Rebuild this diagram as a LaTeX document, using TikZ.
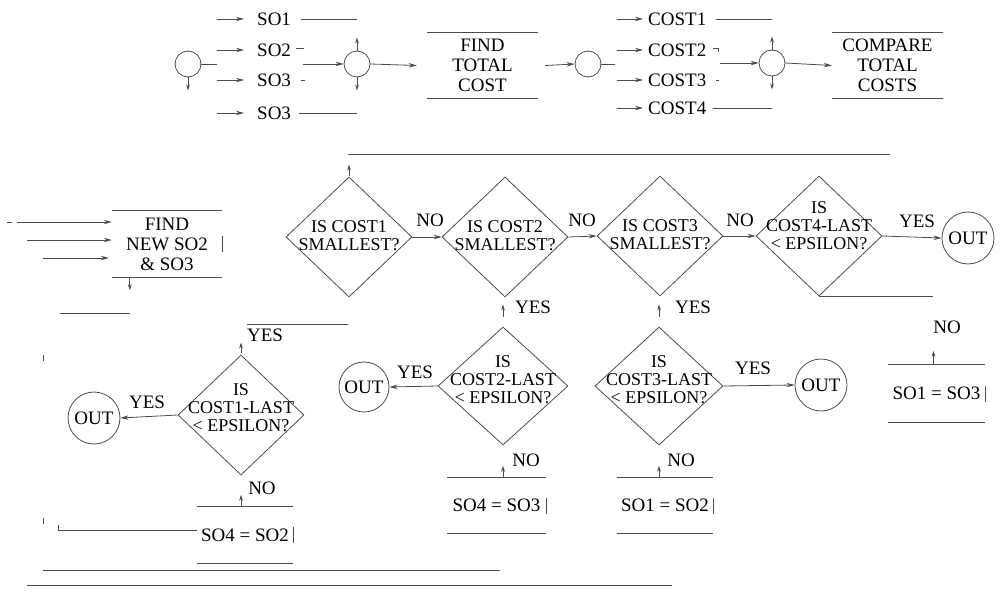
\documentclass[tikz,border=0pt]{standalone}
\usepackage{fontspec}
\setmainfont{Liberation Serif}
\usetikzlibrary{arrows.meta,shapes.geometric,calc}
\begin{document}
\begin{tikzpicture}[x=1pt,y=-1pt,
  every node/.style={font=\fontsize{19}{20}\selectfont, inner sep=0pt, text=black},
  ln/.style={draw=black!70, line width=0.8pt},
  arr/.style={ln, -{Stealth[length=8pt,width=4.4pt]}},
  stub/.style={ln, -{Stealth[length=6pt,width=3.8pt]}},
  knot/.style={circle, draw=black!70, line width=0.8pt, minimum size=26pt},
  outc/.style={circle, draw=black!70, line width=0.8pt, minimum size=52pt},
  dia/.style={diamond, draw=black!70, line width=0.8pt, minimum width=126pt, minimum height=120pt},
  dtxt/.style={align=center, font=\fontsize{18}{18}\selectfont},
  barbox/.style={align=center, append after command={
      (\tikzlastnode.north west) edge[ln] (\tikzlastnode.north east)
      (\tikzlastnode.south west) edge[ln] (\tikzlastnode.south east)}},
]
\useasboundingbox (0,0) rectangle (1001,599);

% ---------- top row ----------
\node[knot] (c1) at (188,64) {};
\draw[stub] (c1.south) -- ++(0,13);
\coordinate (c1r) at (217,64);
\draw[ln] (c1.east) -- (c1r);

\node[anchor=west] (so1) at (257,19) {SO1};
\node[anchor=west] (so2) at (257,50) {SO2};
\node[anchor=west] (so3) at (257,80) {SO3};
\node[anchor=west] (so3b) at (257,113) {SO3};
\foreach \n in {so1,so2,so3,so3b}{
  \draw[arr] ($(\n.west)+(-40,0)$) -- ($(\n.west)+(-13,0)$);
}
\coordinate (so1e) at (357,19);
\coordinate (so3be) at (357,113);
\draw[ln] ($(so1.east)+(10,0)$) -- (so1e);
\draw[ln] ($(so3b.east)+(8,0)$) -- (so3be);
\draw[ln] ($(so2.east)+(5,-2)$) -- ++(8,0);
\draw[ln] ($(so3.east)+(10,0)$) -- ++(4,0);

\node[knot] (c2) at (357,64) {};
\coordinate (c2in) at (303,64);
\draw[arr] (c2in) -- (c2.west);
\draw[stub] (c2.north) -- ++(0,-13);
\draw[stub] (c2.south) -- ++(0,13);

\node[barbox, minimum width=111pt, minimum height=65pt] (ftc) at (482.5,65.5) {FIND\\TOTAL\\COST};
\draw[arr] (c2.east) -- ($(ftc.west)+(-10,0)$);

\node[knot] (c3) at (588,64) {};
\draw[arr] ($(ftc.east)+(7,0)$) -- (c3.west);
\coordinate (c3r) at (615,64);
\draw[ln] (c3.east) -- (c3r);

\node[anchor=west] (k1) at (648,19) {COST1};
\node[anchor=west] (k2) at (648,50) {COST2};
\node[anchor=west] (k3) at (648,80) {COST3};
\node[anchor=west] (k4) at (648,108) {COST4};
\foreach \n in {k1,k2,k3,k4}{
  \draw[arr] ($(\n.west)+(-31,0)$) -- ($(\n.west)+(-5,0)$);
}
\coordinate (k1e) at (772,19);
\coordinate (k4e) at (772,108);
\draw[ln] ($(k1.east)+(10,0)$) -- (k1e);
\draw[ln] ($(k4.east)+(7,0)$) -- (k4e);
\draw[ln] ($(k2.east)+(7,-2)$) -- ++(5,0) -- ++(0,4);
\draw[ln] ($(k3.east)+(10,0)$) -- ++(3,0);

\node[knot] (c4) at (772,63) {};
\coordinate (c4in) at (720,63);
\draw[arr] (c4in) -- (c4.west);
\draw[stub] (c4.north) -- ++(0,-13);
\draw[stub] (c4.south) -- ++(0,13);

\node[barbox, minimum width=111pt, minimum height=65pt] (ctc) at (887.5,65.5) {COMPARE\\TOTAL\\COSTS};
\draw[arr] (c4.east) -- (ctc.west);

% ---------- decision row ----------
\coordinate (topL) at (348,154);
\coordinate (topR) at (890,154);
\draw[ln] (topL) -- (topR);

\node[dia] (d1) at (349,237) {};
\node[dtxt] (t1) at (349,236) {IS COST1\\SMALLEST?};
\node[dia] (d2) at (505,237) {};
\node[dtxt] (t2) at (505,236) {IS COST2\\SMALLEST?};
\node[dia] (d3) at (660,236) {};
\node[dtxt] (t3) at (660,235) {IS COST3\\SMALLEST?};
\node[dia] (d4) at (819,236) {};
\node[dtxt] (t4) at (819,226) {IS\\COST4-LAST\\< EPSILON?};

\draw[stub] ($(d1.north)+(0,-1)$) -- ++(0,-11);
\draw[arr] (d1.east) -- (d2.west);
\draw[arr] (d2.east) -- (d3.west);
\draw[arr] (d3.east) -- (d4.west);
\node (no1) at (430,220) {NO};
\node (no2) at (582,220) {NO};
\node (no3) at (740,220) {NO};

\node[outc] (o1) at (968,238) {OUT};
\draw[arr] (d4.east) -- (o1.west);
\node (y4) at (917,221) {YES};
\coordinate (d4r) at (933,294);
\draw[ln] (d4.south) -- (d4.south -| d4r);

% FIND NEW SO2 & SO3
\node[barbox, minimum width=110pt, minimum height=66pt] (fnb) at (167,244) {FIND\\NEW SO2\\\& SO3};
\draw[ln] ([yshift=8pt]fnb.east) -- ([yshift=-8pt]fnb.east);
\coordinate (f1) at (17,222);
\coordinate (f2) at (27,240);
\coordinate (f3) at (43,258);
\draw[arr] (f1) -- (f1 -| fnb.west);
\draw[arr] (f2) -- (f2 -| fnb.west);
\draw[arr] (f3) -- ($(f3 -| fnb.west)+(-3,0)$);
\coordinate (f0a) at (7,222);
\coordinate (f0b) at (12,222);
\draw[ln] (f0a) -- (f0b);
\draw[stub] ($(fnb.south west)+(18,1)$) -- ++(0,12);
\coordinate (m1a) at (60,313);
\coordinate (m1b) at (130,313);
\draw[ln] (m1a) -- (m1b);

% ---------- second decision row ----------
\node (y2) at (533,307) {YES};
\node (y3) at (693,307) {YES};

\node[dia, minimum width=130pt, minimum height=118pt] (d5) at (503,386) {};
\node[dtxt] (t5) at (503,380) {IS\\COST2-LAST\\< EPSILON?};
\node[dia, minimum width=128pt, minimum height=118pt] (d6) at (659,386) {};
\node[dtxt] (t6) at (659,380) {IS\\COST3-LAST\\< EPSILON?};
\node[dia] (d7) at (241,415) {};
\node[dtxt] (t7) at (241,408) {IS\\COST1-LAST\\< EPSILON?};

\draw[stub] ($(d5.north)+(0,-10)$) -- ++(0,-12);
\draw[stub] ($(d6.north)+(0,-10)$) -- ++(0,-12);
\draw[stub] ($(d7.north)+(0,-2)$) -- ++(0,-10);
\node (y7) at (265,335) {YES};
\coordinate (y7a) at (247,324);
\coordinate (y7b) at (348,324);
\draw[ln] (y7a) -- (y7b);

\node[outc, minimum size=50pt] (o2) at (364,387) {OUT};
\draw[arr] (d5.west) -- (o2.east);
\node (y5) at (415,372) {YES};

\node[outc] (o3) at (821,385) {OUT};
\draw[arr] (d6.east) -- (o3.west);
\node (y6) at (753,368) {YES};

\node[outc] (o4) at (94,418) {OUT};
\draw[arr] (d7.west) -- (o4.east);
\node (y7l) at (147,402) {YES};

% assignment boxes
\node[barbox, minimum width=96pt, minimum height=56pt] (b7) at (245,535) {SO4 = SO2};
\node[barbox, minimum width=99pt, minimum height=55pt] (b5) at (496.5,505.5) {SO4 = SO3};
\node[barbox, minimum width=96pt, minimum height=55pt] (b6) at (665,505.5) {SO1 = SO2};
\node[barbox, minimum width=97pt, minimum height=57pt] (b4) at (936.5,393.5) {SO1 = SO3};
\foreach \b in {b7,b5,b6,b4}{
  \draw[ln] ([yshift=8pt]\b.east) -- ([yshift=-8pt]\b.east);
}
\draw[stub] (d7.south |- b7.north) -- ++(0,-12);
\draw[stub] (d5.south |- b5.north) -- ++(0,-12);
\draw[stub] (d6.south |- b6.north) -- ++(0,-12);
\draw[stub] ($(b4.north)+(-3,0)$) -- ++(0,-14);
\node (n7) at (262,488) {NO};
\node (n5) at (526,460) {NO};
\node (n6) at (681,460) {NO};
\node (n4) at (947,327) {NO};

% loose lines at the bottom
\coordinate (lb1) at (58,525);
\coordinate (lb2) at (58,530);
\draw[ln] (lb1) -- (lb2) -- (b7.west |- lb2);
\coordinate (tk1) at (43,355);
\coordinate (tk2) at (43,361);
\draw[ln] (tk1) -- (tk2);
\coordinate (tk3) at (43,518);
\coordinate (tk4) at (43,524);
\draw[ln] (tk3) -- (tk4);
\coordinate (bl1) at (43,570);
\coordinate (bl2) at (500,570);
\draw[ln] (bl1) -- (bl2);
\coordinate (bl3) at (27,585);
\coordinate (bl4) at (672,585);
\draw[ln] (bl3) -- (bl4);
\end{tikzpicture}
\end{document}
